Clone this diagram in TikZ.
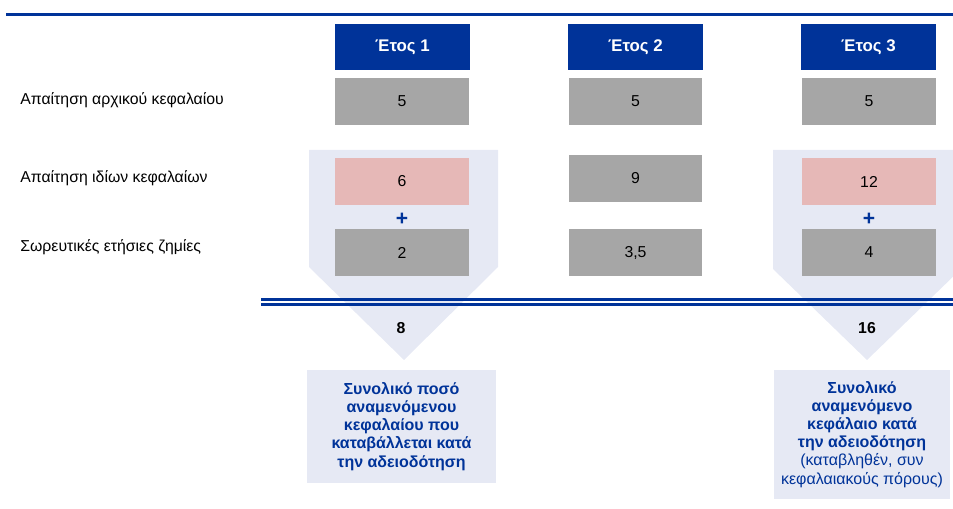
\documentclass[tikz,border=0pt]{standalone}
\usepackage{fontspec}
\setmainfont{Liberation Sans}
\usepackage{tikz}
\usetikzlibrary{positioning}
\definecolor{ecbblue}{HTML}{003399}
\definecolor{cellgrey}{HTML}{A6A6A6}
\definecolor{cellpink}{HTML}{E6B8B7}
\definecolor{arrowfill}{HTML}{E6E9F4}

\begin{document}
\begin{tikzpicture}[x=0.02cm,y=-0.02cm,node font=\fontsize{9}{10.8}\selectfont,
	yearbox/.style={fill=ecbblue,text=white,font=\bfseries\fontsize{9.6}{11}\selectfont,minimum width=2.7cm,minimum height=0.92cm,inner sep=0pt},
	cell/.style={fill=cellgrey,minimum width=2.68cm,minimum height=0.94cm,inner sep=0pt},
	owncell/.style={cell,fill=cellpink},
	rowlabel/.style={anchor=west,inner sep=0pt},
	plussign/.style={text=ecbblue,font=\bfseries\fontsize{12}{12}\selectfont,inner sep=0pt},
	total/.style={font=\bfseries,inner sep=0pt},
	notebox/.style={fill=arrowfill,text=ecbblue,align=center,inner sep=0pt,
		font=\bfseries\fontsize{9.1}{10.3}\selectfont}]
			\useasboundingbox (0,0) rectangle (953,509);
			\clip (0,0) rectangle (953,509);
			% top rule
			\draw[ecbblue,line width=0.054cm] (6,14.7)-- (953,14.7);
			% pale arrows behind years 1 and 3
			\fill[arrowfill] (309,150)-- (498,150)-- (498,267)-- (404,360)-- (309,267)-- cycle;
			\fill[arrowfill] (773,150)-- (961,150)-- (961,269)-- (867,360)-- (773,269)-- cycle;
			% double rule
			\draw[ecbblue,line width=0.05cm] (261,299.3)-- (953,299.3);
			\draw[ecbblue,line width=0.05cm] (261,304.7)-- (953,304.7);
			% headers
			\node[yearbox] (y1) at (402.5,47) {Έτος 1};
			\node[yearbox] (y2) at (635.5,47) {Έτος 2};
			\node[yearbox] (y3) at (868.5,47) {Έτος 3};
			% row labels
			\node[rowlabel] (l1) at (20,100) {Απαίτηση αρχικού κεφαλαίου};
			\node[rowlabel] (l2) at (20,178) {Απαίτηση ιδίων κεφαλαίων};
			\node[rowlabel] (l3) at (20,247) {Σωρευτικές ετήσιες ζημίες};
			% year 1
			\node[cell] (a1) at (402,101.5) {5};
			\node[owncell] (b1) at (402,181.5) {6};
			\node[plussign] (p1) at (402,219) {+};
			\node[cell] (c1) at (402,252.5) {2};
			\node[total] (t1) at (401,328) {8};
			% year 2
			\node[cell] (a2) at (635.5,101.5) {5};
			\node[cell] (b2) at (635.5,178.5) {9};
			\node[cell] (c2) at (635.5,252.5) {3,5};
			% year 3
			\node[cell] (a3) at (869,101.5) {5};
			\node[owncell] (b3) at (869,181.5) {12};
			\node[plussign] (p3) at (869,219) {+};
			\node[cell] (c3) at (869,252.5) {4};
			\node[total] (t3) at (867,328) {16};
			% notes
			\node[notebox,minimum width=3.78cm,minimum height=2.26cm] (n1) at (401.5,426.5)
				{Συνολικό ποσό\\αναμενόμενου\\κεφαλαίου που\\καταβάλλεται κατά\\την αδειοδότηση};
			\node[notebox,minimum width=3.52cm,minimum height=2.58cm] (n3) at (862,434.5)
				{Συνολικό\\αναμενόμενο\\κεφάλαιο κατά\\την αδειοδότηση\\{\mdseries(καταβληθέν, συν}\\{\mdseries κεφαλαιακούς πόρους)}};
		\end{tikzpicture}
\end{document}
